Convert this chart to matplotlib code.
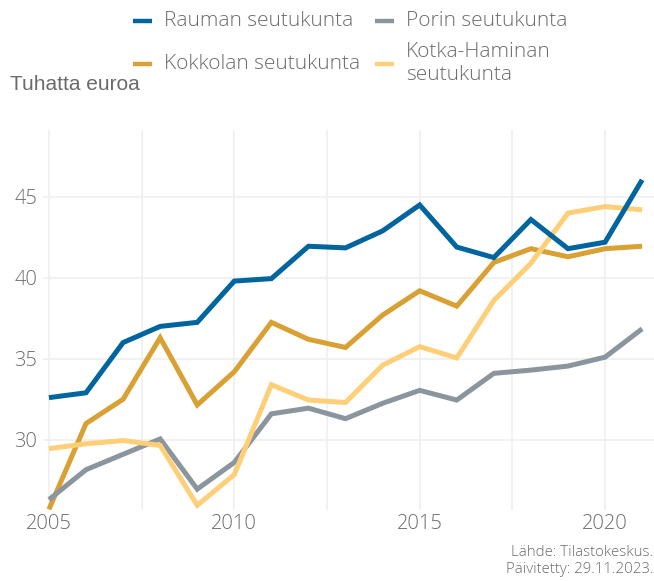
import numpy as np
import matplotlib
matplotlib.use("Agg")
import matplotlib.pyplot as plt
from matplotlib.lines import Line2D

# ------------------------------
# Data (thousand euros)
# ------------------------------
years = list(range(2005, 2022))
rauma = [32.6, 32.9, 36.0, 37.0, 37.25, 39.8, 39.95, 41.95, 41.85, 42.9, 44.5,
         41.9, 41.25, 43.6, 41.8, 42.2, 46.05]
kokkola = [25.7, 31.0, 32.5, 36.3, 32.15, 34.2, 37.25, 36.2, 35.7, 37.7, 39.2,
           38.25, 40.95, 41.8, 41.3, 41.8, 41.95]
pori = [26.3, 28.15, 29.1, 30.05, 26.95, 28.6, 31.6, 31.95, 31.3, 32.25, 33.05,
        32.45, 34.1, 34.3, 34.55, 35.1, 36.85]
kotka = [29.45, 29.75, 29.95, 29.65, 25.95, 27.85, 33.4, 32.45, 32.3, 34.6, 35.75,
         35.05, 38.6, 40.9, 44.0, 44.4, 44.2]

labels = ["Rauman seutukunta", "Kokkolan seutukunta", "Porin seutukunta",
          "Kotka-Haminan\nseutukunta"]
colors = ["#00659f", "#d9a033", "#8a959e", "#ffcf78"]
series = [rauma, kokkola, pori, kotka]

text_col = "#6b6b6b"
font = "Open Sans"
W, H = 654, 581

# ------------------------------
# Plot
# ------------------------------
fig = plt.figure(figsize=(6.54, 5.81), dpi=100)
ax = fig.add_axes([43 / W, 71 / H, 611 / W, 380 / H])

for vals, col, lab in zip(series, colors, labels):
    ax.plot(years, vals, color=col, lw=3.6, solid_joinstyle="miter",
            solid_capstyle="butt", label=lab,
            zorder=4 if col == colors[0] else 3)

ax.set_xlim(2004.84, 2021.32)
ax.set_ylim(25.66, 49.13)
ax.set_xticks([2005, 2010, 2015, 2020])
ax.set_xticks([2007.5, 2012.5, 2017.5], minor=True)
ax.set_yticks([30, 35, 40, 45])
ax.grid(True, which="both", color="#efefef", lw=1.2, zorder=0)
for s in ax.spines.values():
    s.set_visible(False)
ax.tick_params(which="both", length=0, labelsize=14.5, labelcolor=text_col)
ax.tick_params(axis="y", pad=4)
ax.tick_params(axis="x", pad=3)
for t in ax.get_xticklabels() + ax.get_yticklabels():
    t.set_family(font)
    t.set_fontweight("light")

fig.text(10 / W, 1 - 84 / H, "Tuhatta euroa", fontsize=15, color=text_col,
         va="center", ha="left", family="Liberation Sans")

# legend laid out by hand: 2 columns, second row of column 2 is two lines
slots = [(133, 21), (133, 64), (375, 21), (375, 63.5)]
for (x0, yc), col, lab in zip(slots, colors, labels):
    fig.add_artist(Line2D([x0 / W, (x0 + 19) / W], [1 - yc / H, 1 - yc / H],
                          color=col, lw=3.2, solid_capstyle="butt",
                          transform=fig.transFigure))
    fig.text((x0 + 31) / W, 1 - yc / H, lab, ha="left", va="center",
             fontsize=15, color=text_col, family=font, fontweight="light",
             linespacing=1.18)

fig.text(1 - 1 / W, 1 - 561 / H, "Lähde: Tilastokeskus.\nPäivitetty: 29.11.2023.",
         ha="right", va="center", fontsize=10.8, color=text_col, family=font,
         fontweight="light", linespacing=1.1)

fig.savefig("out.png", dpi=100)
